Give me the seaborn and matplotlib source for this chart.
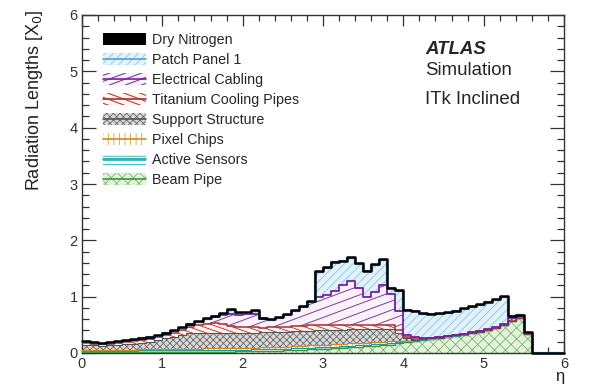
import numpy as np
import pandas as pd
import matplotlib
matplotlib.use("Agg")
import matplotlib.pyplot as plt
import seaborn as sns
from matplotlib.patches import Rectangle
from matplotlib.lines import Line2D
from matplotlib.legend_handler import HandlerBase
from matplotlib.ticker import MultipleLocator

# pseudorapidity bins of width 0.1 from 0 to 6
eta_edges = np.round(np.linspace(0.0, 6.0, 61), 2)

# material per component and bin, in radiation lengths
beam_pipe = [
    0.010, 0.010, 0.010, 0.010, 0.011, 0.011, 0.012, 0.012, 0.013, 0.014,
    0.015, 0.016, 0.017, 0.018, 0.019, 0.020, 0.022, 0.024, 0.026, 0.028,
    0.030, 0.033, 0.036, 0.040, 0.044, 0.048, 0.053, 0.058, 0.063, 0.068,
    0.075, 0.082, 0.090, 0.098, 0.107, 0.116, 0.126, 0.137, 0.150, 0.170,
    0.195, 0.215, 0.232, 0.250, 0.268, 0.288, 0.308, 0.328, 0.350, 0.375,
    0.405, 0.440, 0.490, 0.560, 0.620, 0.330, 0.0, 0.0, 0.0, 0.0,
]
active_sensors = [
    0.030, 0.030, 0.030, 0.031, 0.031, 0.032, 0.032, 0.033, 0.033, 0.034,
    0.035, 0.035, 0.035, 0.035, 0.035, 0.035, 0.034, 0.033, 0.032, 0.031,
    0.030, 0.030, 0.030, 0.030, 0.030, 0.030, 0.030, 0.030, 0.031, 0.032,
    0.032, 0.032, 0.032, 0.032, 0.032, 0.032, 0.031, 0.030, 0.028, 0.020,
    0.010, 0.005, 0.004, 0.002, 0.002, 0.002, 0.002, 0.002, 0.002, 0.002,
    0.002, 0.002, 0.002, 0.002, 0.002, 0.002, 0.0, 0.0, 0.0, 0.0,
]
pixel_chips = [
    0.020, 0.018, 0.018, 0.018, 0.018, 0.018, 0.018, 0.019, 0.020, 0.020,
    0.020, 0.021, 0.022, 0.023, 0.024, 0.025, 0.026, 0.027, 0.028, 0.029,
    0.030, 0.031, 0.032, 0.033, 0.034, 0.035, 0.037, 0.039, 0.040, 0.041,
    0.042, 0.042, 0.041, 0.040, 0.039, 0.038, 0.037, 0.035, 0.032, 0.025,
    0.010, 0.005, 0.004, 0.002, 0.002, 0.002, 0.002, 0.002, 0.002, 0.002,
    0.002, 0.002, 0.002, 0.002, 0.002, 0.002, 0.0, 0.0, 0.0, 0.0,
]
support_structure = [
    0.090, 0.077, 0.072, 0.076, 0.085, 0.094, 0.103, 0.116, 0.134, 0.157,
    0.190, 0.218, 0.246, 0.274, 0.277, 0.280, 0.278, 0.276, 0.274, 0.272,
    0.270, 0.266, 0.267, 0.267, 0.267, 0.267, 0.265, 0.263, 0.261, 0.259,
    0.256, 0.254, 0.252, 0.250, 0.242, 0.239, 0.231, 0.228, 0.210, 0.135,
    0.045, 0.010, 0.005, 0.004, 0.002, 0.002, 0.002, 0.002, 0.002, 0.002,
    0.002, 0.002, 0.002, 0.002, 0.002, 0.002, 0.0, 0.0, 0.0, 0.0,
]
titanium_pipes = [
    0.025, 0.025, 0.025, 0.027, 0.033, 0.040, 0.050, 0.055, 0.055, 0.060,
    0.060, 0.065, 0.090, 0.120, 0.140, 0.160, 0.180, 0.150, 0.120, 0.110,
    0.095, 0.100, 0.085, 0.085, 0.085, 0.090, 0.090, 0.095, 0.100, 0.100,
    0.095, 0.095, 0.090, 0.085, 0.080, 0.075, 0.080, 0.075, 0.070, 0.050,
    0.020, 0.010, 0.005, 0.002, 0.002, 0.002, 0.002, 0.002, 0.002, 0.002,
    0.002, 0.002, 0.002, 0.002, 0.002, 0.002, 0.0, 0.0, 0.0, 0.0,
]
electrical_cabling = [
    0.015, 0.012, 0.010, 0.013, 0.017, 0.020, 0.020, 0.020, 0.020, 0.020,
    0.025, 0.030, 0.035, 0.035, 0.050, 0.080, 0.100, 0.170, 0.210, 0.210,
    0.235, 0.240, 0.160, 0.130, 0.165, 0.205, 0.270, 0.330, 0.410, 0.500,
    0.530, 0.595, 0.695, 0.775, 0.650, 0.500, 0.575, 0.695, 0.560, 0.350,
    0.040, 0.035, 0.020, 0.012, 0.010, 0.010, 0.010, 0.010, 0.012, 0.012,
    0.015, 0.018, 0.025, 0.045, 0.035, 0.015, 0.0, 0.0, 0.0, 0.0,
]
patch_panel = [
    0.008, 0.004, 0.003, 0.003, 0.003, 0.003, 0.003, 0.003, 0.003, 0.003,
    0.003, 0.003, 0.003, 0.003, 0.003, 0.008, 0.008, 0.018, 0.078, 0.028,
    0.028, 0.048, 0.008, 0.003, 0.003, 0.003, 0.003, 0.003, 0.003, 0.438,
    0.478, 0.508, 0.428, 0.408, 0.438, 0.448, 0.488, 0.458, 0.098, 0.358,
    0.438, 0.458, 0.428, 0.416, 0.412, 0.402, 0.412, 0.432, 0.448, 0.463,
    0.470, 0.472, 0.475, 0.035, 0.005, 0.005, 0.0, 0.0, 0.0, 0.0,
]
dry_nitrogen = [0.012] * 56 + [0.0] * 4

# legend order: top of the stack first
components = [
    "Dry Nitrogen", "Patch Panel 1", "Electrical Cabling", "Titanium Cooling Pipes",
    "Support Structure", "Pixel Chips", "Active Sensors", "Beam Pipe",
]
series = [
    dry_nitrogen, patch_panel, electrical_cabling, titanium_pipes,
    support_structure, pixel_chips, active_sensors, beam_pipe,
]

styles = {
    "Beam Pipe": dict(face="#e4f2dd", hatch="xxx", hatch_color="#78b86a", line="#3a9a3a", lw=1.0),
    "Active Sensors": dict(face="#ffffff", hatch="----", hatch_color="#1fb3b3", line="#17a0a0", lw=0.9),
    "Pixel Chips": dict(face="#ffffff", hatch="|||", hatch_color="#d9a03a", line="#cf8a22", lw=0.9),
    "Support Structure": dict(face="#dadada", hatch="xxxxx", hatch_color="#686868", line="#555555", lw=0.8),
    "Titanium Cooling Pipes": dict(face="#fff6f6", hatch=None, hatch_color="#c23b30", line="#a8322a",
                                   lw=1.1, slope=-0.5, spacing=0.09),
    "Electrical Cabling": dict(face="#fcf2fa", hatch=None, hatch_color="#7d3a9e", line="#7420a0",
                               lw=1.3, slope=0.53, spacing=0.16),
    "Patch Panel 1": dict(face="#e3f1fb", hatch="////", hatch_color="#8cc5ea", line="#4f9fd6", lw=1.6),
    "Dry Nitrogen": dict(face="#000000", hatch=None, hatch_color="#000000", line="#000000", lw=1.8),
}

sns.set_theme(style="ticks")
plt.rcParams["font.family"] = ["Liberation Sans", "DejaVu Sans"]
plt.rcParams["hatch.linewidth"] = 0.6

fig = plt.figure(figsize=(5.89, 3.86), dpi=100)
ax = fig.add_axes([82 / 589, 33 / 386, 482 / 589, 338 / 386])

values = pd.DataFrame(dict(zip(components, series)), index=eta_edges[:-1])
stack_order = components[::-1]
tops = values[stack_order].cumsum(axis=1)

lower = np.zeros(len(eta_edges))
for name in stack_order:
    st = styles[name]
    col = tops[name].to_numpy()
    upper = np.append(col, col[-1])
    poly = ax.fill_between(eta_edges, lower, upper, step="post", facecolor=st["face"],
                           edgecolor=st["hatch_color"], hatch=st["hatch"], linewidth=0, zorder=2)
    if "slope" in st:
        clip = poly.get_paths()[0]
        for c in np.arange(-4.0, 6.0, st["spacing"]):
            ln, = ax.plot([0, 6], [c, c + st["slope"] * 6], color=st["hatch_color"], lw=0.7, zorder=2.5)
            ln.set_clip_path(clip, ax.transData)
    outline = pd.DataFrame({"eta": eta_edges, "top": upper})
    sns.lineplot(data=outline, x="eta", y="top", drawstyle="steps-post", color=st["line"],
                 linewidth=st["lw"], estimator=None, ax=ax, zorder=3,
                 clip_on=(name != "Dry Nitrogen"))
    lower = upper


class FillKey:
    def __init__(self, style):
        self.style = style


class FillKeyHandler(HandlerBase):
    def create_artists(self, legend, orig_handle, xdescent, ydescent, width, height, fontsize, trans):
        st = orig_handle.style
        x0, y0 = -xdescent, -ydescent
        box = Rectangle((x0, y0), width, height, facecolor=st["face"], edgecolor=st["hatch_color"],
                        hatch=st["hatch"], linewidth=0, transform=trans)
        artists = [box]
        if "slope" in st:
            s = 0.37 if st["slope"] > 0 else -0.37
            for k in range(-3, 4):
                yc = y0 + height / 2 + k * height * 0.5
                ln = Line2D([x0, x0 + width], [yc - s * width / 2, yc + s * width / 2],
                            color=st["hatch_color"], lw=0.8, transform=trans)
                ln.set_clip_path(box)
                artists.append(ln)
        if st["face"] != "#000000":
            artists.append(Line2D([x0, x0 + width], [y0 + height / 2] * 2, color=st["line"],
                                  lw=1.2, transform=trans))
        return artists


keys = [FillKey(styles[n]) for n in components]
ax.legend(keys, components, handler_map={FillKey: FillKeyHandler()}, loc="upper left",
          bbox_to_anchor=(0.044, 0.946), frameon=False, fontsize=10.3, handlelength=3.0,
          handleheight=0.9, handletextpad=0.4, labelspacing=0.42, borderpad=0, borderaxespad=0)

ax.text(0.712, 0.899, "ATLAS", transform=ax.transAxes, fontsize=13.4, fontweight="bold",
        style="italic", va="center", ha="left")
ax.text(0.712, 0.837, "Simulation", transform=ax.transAxes, fontsize=13.4, va="center", ha="left")
ax.text(0.712, 0.750, "ITk Inclined", transform=ax.transAxes, fontsize=13.4, va="center", ha="left")

ax.set_xlim(0, 6)
ax.set_ylim(0, 6)
ax.xaxis.set_major_locator(MultipleLocator(1))
ax.xaxis.set_minor_locator(MultipleLocator(0.2))
ax.yaxis.set_major_locator(MultipleLocator(1))
ax.yaxis.set_minor_locator(MultipleLocator(0.2))
ax.tick_params(which="both", direction="in", top=True, right=True, colors="#333333",
               labelsize=10.5, width=0.9)
ax.tick_params(axis="x", which="major", length=8, pad=3)
ax.tick_params(axis="x", which="minor", length=4)
ax.tick_params(axis="y", which="major", length=10, pad=3)
ax.tick_params(axis="y", which="minor", length=5)
for sp in ax.spines.values():
    sp.set_color("#333333")
    sp.set_linewidth(1.0)

ax.set_ylabel("Radiation Lengths [X$_0$]", fontsize=13, loc="top", color="#222222")
ax.yaxis.set_label_coords(-0.077, 1.015)
ax.set_xlabel("η", fontsize=12, loc="right", color="#222222")
ax.xaxis.set_label_coords(1.0, -0.048)

fig.savefig("out.png", dpi=100)
